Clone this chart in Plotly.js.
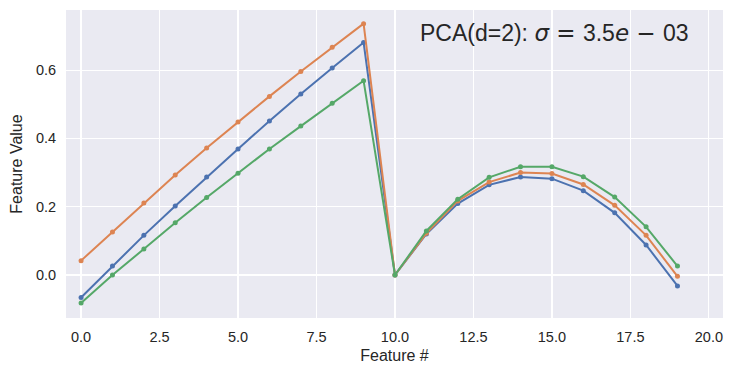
<!DOCTYPE html>
<html>
<head>
<meta charset="utf-8">
<script src="https://cdn.plot.ly/plotly-3.0.1.min.js"></script>
<style>html,body{margin:0;padding:0;background:#fff;}#chart{width:733px;height:375px;}</style>
</head>
<body>
<div id="chart"></div>
<script>
const features = [0,1,2,3,4,5,6,7,8,9,10,11,12,13,14,15,16,17,18,19];
const seriesBlue = [-0.066,0.026,0.116,0.202,0.287,0.369,0.451,0.530,0.606,0.681,0.0,0.120,0.209,0.264,0.287,0.282,0.247,0.182,0.088,-0.032];
const seriesOrange = [0.042,0.126,0.211,0.293,0.372,0.448,0.523,0.596,0.667,0.736,0.0,0.122,0.217,0.272,0.300,0.297,0.265,0.204,0.116,-0.004];
const seriesGreen = [-0.082,0.0,0.076,0.153,0.227,0.298,0.369,0.436,0.503,0.569,0.0,0.129,0.222,0.286,0.317,0.317,0.288,0.228,0.141,0.026];
const xTicks = [0,2.5,5,7.5,10,12.5,15,17.5,20];
const yTicks = [0,0.2,0.4,0.6];
const titleText = "PCA(d=2): <span style=\"font-family:'DejaVu Sans'\"><i>σ</i> = </span>3.5<span style=\"font-family:'DejaVu Sans'\"><i>e</i> − </span>03";

function tr(y, color){
  return {x: features, y: y, mode: 'lines+markers', type: 'scatter',
    line: {color: color, width: 2}, marker: {color: color, size: 5}, showlegend: false, hoverinfo: 'none'};
}
const data = [tr(seriesBlue,'#4C72B0'), tr(seriesOrange,'#DD8452'), tr(seriesGreen,'#55A868')];
const font = {family: 'Liberation Sans, Arial, sans-serif', size: 14.5, color: '#262626'};
const layout = {
  width: 733, height: 375,
  margin: {l: 66, r: 10, t: 10, b: 57},
  paper_bgcolor: '#ffffff', plot_bgcolor: '#EAEAF2',
  font: font,
  xaxis: {range: [-0.48, 20.45], tickvals: xTicks, ticktext: xTicks.map(v=>v.toFixed(1)),
    showgrid: true, gridcolor: '#ffffff', gridwidth: 1.2, zeroline: false, showline: false,
    ticks: 'outside', ticklen: 6, tickcolor: 'rgba(0,0,0,0)', tickfont: {size: 14.5, color: '#262626'},
    title: {text: 'Feature #', font: {size: 16, color: '#262626'}, standoff: 5}},
  yaxis: {range: [-0.126, 0.776], tickvals: yTicks, ticktext: yTicks.map(v=>v.toFixed(1)),
    showgrid: true, gridcolor: '#ffffff', gridwidth: 1.2, zeroline: false, showline: false,
    ticks: 'outside', ticklen: 6, tickcolor: 'rgba(0,0,0,0)', tickfont: {size: 14.5, color: '#262626'},
    title: {text: 'Feature Value', font: {size: 16, color: '#262626'}, standoff: 9}},
  annotations: [{xref: 'paper', yref: 'paper', x: 0.952, y: 0.925, xanchor: 'right', yanchor: 'middle',
    text: titleText, showarrow: false, font: {family: 'Liberation Sans, Arial, sans-serif', size: 23, color: '#262626'}}]
};
Plotly.newPlot('chart', data, layout, {displayModeBar: false, staticPlot: true});
</script>
</body>
</html>
